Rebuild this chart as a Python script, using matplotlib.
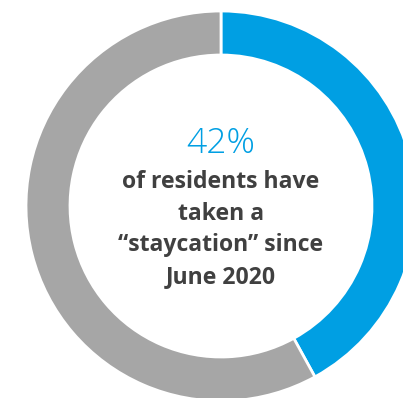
import matplotlib
matplotlib.use("Agg")
import matplotlib.pyplot as plt

# data
labels = ["Taken a staycation", "Not taken"]
shares = [42, 58]
colors = ["#009fe3", "#a6a6a6"]
headline = "42%"
caption = ["of residents have", "taken a", "\u201cstaycation\u201d since", "June 2020"]

W, H = 403, 398
fig = plt.figure(figsize=(W / 100, H / 100), dpi=100)
ax = fig.add_axes([0, 0, 1, 1])

cx, cy = 221, H - 206
R = 195
ax.pie(shares, colors=colors, startangle=90, counterclock=False,
       center=(cx, cy), radius=R, frame=True,
       wedgeprops=dict(width=44, edgecolor="white", linewidth=2))
ax.set_xlim(0, W)
ax.set_ylim(0, H)
ax.set_aspect("equal")
ax.axis("off")

ax.text(cx, H - 153, headline, ha="center", va="baseline", color="#009fe3",
        fontsize=25.5, family="Open Sans", fontweight="light")
baselines = [188, 220, 251, 283]
for line, b in zip(caption, baselines):
    ax.text(cx, H - b, line, ha="center", va="baseline", color="#404040",
            fontsize=16.6, fontweight="bold", family="Open Sans")

fig.savefig("out.png", dpi=100)
